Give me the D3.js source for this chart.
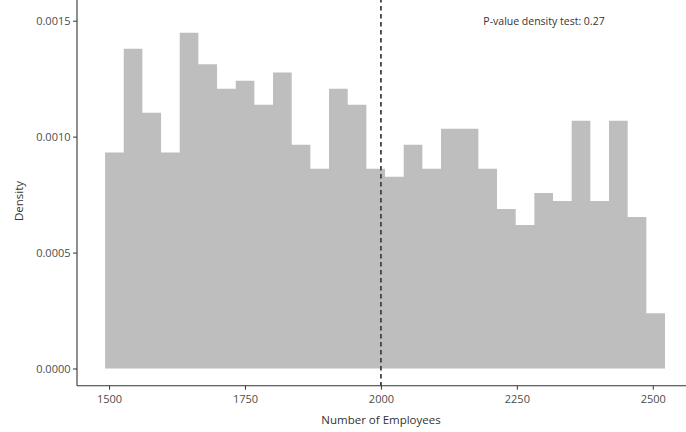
<!DOCTYPE html>
<html>
<head>
<meta charset="utf-8">
<script src="https://cdn.jsdelivr.net/npm/d3@7/dist/d3.min.js"></script>
<style>
  html, body { margin: 0; padding: 0; background: #fff; }
  svg { display: block; }
  text { font-family: "Open Sans", "Noto Sans", sans-serif; }
</style>
</head>
<body>
<svg id="chart" width="686" height="432"></svg>
<script>
// Histogram of employee counts: 30 bins, density per bin
const binStart = 1492.6;
const binWidth = 34.33;
const densities = [
  0.000932, 0.001379, 0.001103, 0.000932, 0.001448, 0.001312, 0.001207, 0.001241,
  0.001138, 0.001277, 0.000965, 0.000862, 0.001207, 0.001138, 0.000862,
  0.000827, 0.000965, 0.000862, 0.001034, 0.001034, 0.000862, 0.000688, 0.000619,
  0.000757, 0.000722, 0.001069, 0.000722, 0.001069, 0.000653, 0.000238
];
const xTicks = [1500, 1750, 2000, 2250, 2500];
const yTicks = [0, 0.0005, 0.0010, 0.0015];
const cutoff = 2000;
const annotation = "P-value density test: 0.27";
const xTitle = "Number of Employees";
const yTitle = "Density";

const bins = densities.map((d, i) => ({
  x0: binStart + i * binWidth,
  x1: binStart + (i + 1) * binWidth,
  density: d
}));

const svg = d3.select("#chart");

const panel = { left: 77, right: 693, top: -2, bottom: 385.7 };

const x = d3.scaleLinear().domain([1441, 2574]).range([panel.left, panel.right]);
const y = d3.scaleLinear().domain([0, 0.0015]).range([368.5, 20.7]);

// Bars, drawn as one seamless outline so adjacent bins share edges
const area = d3.path();
area.moveTo(x(bins[0].x0), y(0));
bins.forEach(b => {
  area.lineTo(x(b.x0), y(b.density));
  area.lineTo(x(b.x1), y(b.density));
});
area.lineTo(x(bins[bins.length - 1].x1), y(0));
area.closePath();
svg.append("path")
  .attr("d", area.toString())
  .attr("fill", "#bebebe");

// Cutoff line
svg.append("line")
  .attr("x1", x(cutoff)).attr("x2", x(cutoff))
  .attr("y1", panel.top).attr("y2", panel.bottom)
  .attr("stroke", "#444")
  .attr("stroke-width", 1.8)
  .attr("stroke-dasharray", "4.5,3.5");

// X axis
const xAxis = svg.append("g")
  .attr("transform", `translate(0,${panel.bottom})`)
  .call(d3.axisBottom(x).tickValues(xTicks).tickFormat(d3.format("d")).tickSize(4).tickSizeOuter(0));
xAxis.select(".domain").attr("stroke", "#333").attr("stroke-width", 1.1)
  .attr("d", `M${panel.left},0H${panel.right}`);
xAxis.selectAll(".tick line").attr("stroke", "#333");
xAxis.selectAll(".tick text").attr("fill", "#4d4d4d").attr("font-size", 11).attr("dy", "0.95em")
  .style("font-family", "'Open Sans', sans-serif");

// Y axis
const yAxis = svg.append("g")
  .attr("transform", `translate(${panel.left},0)`)
  .call(d3.axisLeft(y).tickValues(yTicks).tickFormat(d3.format(".4f")).tickSize(4).tickSizeOuter(0));
yAxis.select(".domain").attr("stroke", "#333").attr("stroke-width", 1.1)
  .attr("d", `M0,${panel.top}V${panel.bottom}`);
yAxis.selectAll(".tick line").attr("stroke", "#333");
yAxis.selectAll(".tick text").attr("fill", "#4d4d4d").attr("font-size", 11).attr("x", -6.5)
  .style("font-family", "'Open Sans', sans-serif");

// Annotation
svg.append("text")
  .attr("x", 544).attr("y", 21)
  .attr("text-anchor", "middle").attr("dominant-baseline", "central")
  .attr("font-size", 10.5).attr("fill", "#333")
  .text(annotation);

// Axis titles
svg.append("text")
  .attr("x", 381).attr("y", 419)
  .attr("text-anchor", "middle").attr("dominant-baseline", "central")
  .attr("font-size", 11.5).attr("fill", "#333")
  .text(xTitle);

svg.append("text")
  .attr("transform", `translate(18,201) rotate(-90)`)
  .attr("text-anchor", "middle").attr("dominant-baseline", "central")
  .attr("font-size", 11.5).attr("fill", "#333")
  .text(yTitle);
</script>
</body>
</html>
